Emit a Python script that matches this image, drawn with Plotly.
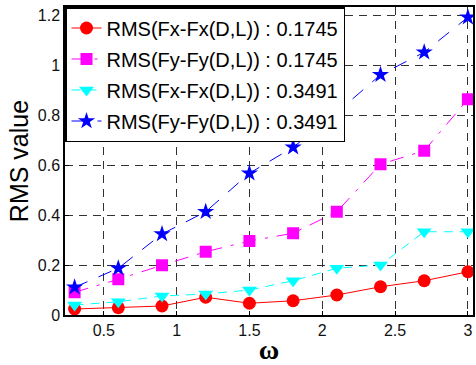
import plotly.graph_objects as go

omega = [0.3, 0.6, 0.9, 1.2, 1.5, 1.8, 2.1, 2.4, 2.7, 3.0]
fx_1745 = [0.024, 0.029, 0.036, 0.071, 0.047, 0.057, 0.080, 0.113, 0.137, 0.173]
fy_1745 = [0.091, 0.143, 0.199, 0.253, 0.296, 0.327, 0.413, 0.603, 0.657, 0.863]
fx_3491 = [0.040, 0.053, 0.076, 0.084, 0.100, 0.137, 0.187, 0.200, 0.333, 0.333]
fy_3491 = [0.111, 0.187, 0.324, 0.413, 0.567, 0.671, 0.810, 0.961, 1.051, 1.191]

names = ["RMS(Fx-Fx(D,L)) : 0.1745", "RMS(Fy-Fy(D,L)) : 0.1745",
         "RMS(Fx-Fx(D,L)) : 0.3491", "RMS(Fy-Fy(D,L)) : 0.3491"]
series = [fx_1745, fy_1745, fx_3491, fy_3491]
colors = ["#ff0000", "#ff00ff", "#00ffff", "#0000ff"]
symbols = ["circle", "square", "triangle-down", "star"]
dashes = ["solid", "14px,9px,3px,9px", "9px,7px", "14px,12px"]
sizes = [13, 12, 13, 13]

fig = go.Figure()
for i, (n, s, c, sym, d, sz) in enumerate(zip(names, series, colors, symbols, dashes, sizes)):
    fig.add_trace(go.Scatter(
        x=omega, y=s, name=n, mode="lines+markers", legendgroup=f"g{i}",
        line=dict(color=c, width=1, dash=d),
        marker=dict(symbol=sym, size=sz, color=c, line=dict(width=0)),
    ))

axis_common = dict(
    showline=True, linecolor="black", linewidth=1.5, mirror=True,
    showgrid=True, gridcolor="#333333", griddash="8px,6px", gridwidth=1,
    zeroline=False, ticks="inside", ticklen=4, tickcolor="black",
    tickfont=dict(family="Liberation Sans, Arial", size=16, color="#111"),
)

fig.update_xaxes(range=[0.234, 3.035], tickvals=[0.5, 1, 1.5, 2, 2.5, 3],
                 ticktext=["0.5", "1", "1.5", "2", "2.5", "3"],
                 title=dict(text="<b>ω</b>", font=dict(family="Liberation Serif, Times New Roman", size=28, color="black"), standoff=4),
                 **axis_common)
fig.update_yaxes(range=[0, 1.232], tickvals=[0, 0.2, 0.4, 0.6, 0.8, 1, 1.2],
                 ticktext=["0", "0.2", "0.4", "0.6", "0.8", "1", "1.2"],
                 title=dict(text="RMS value", font=dict(family="Liberation Sans, Arial", size=25, color="black"), standoff=2),
                 **axis_common)

fig.update_layout(
    width=476, height=365,
    margin=dict(l=65, r=1, t=7, b=50),
    plot_bgcolor="white", paper_bgcolor="white",
    legend=dict(x=0, y=1, xanchor="left", yanchor="top",
                bgcolor="white", bordercolor="black", borderwidth=1.5,
                font=dict(family="Liberation Sans, Arial", size=20, color="black"),
                itemwidth=30, tracegroupgap=2),
)

fig.write_html("out.html")
